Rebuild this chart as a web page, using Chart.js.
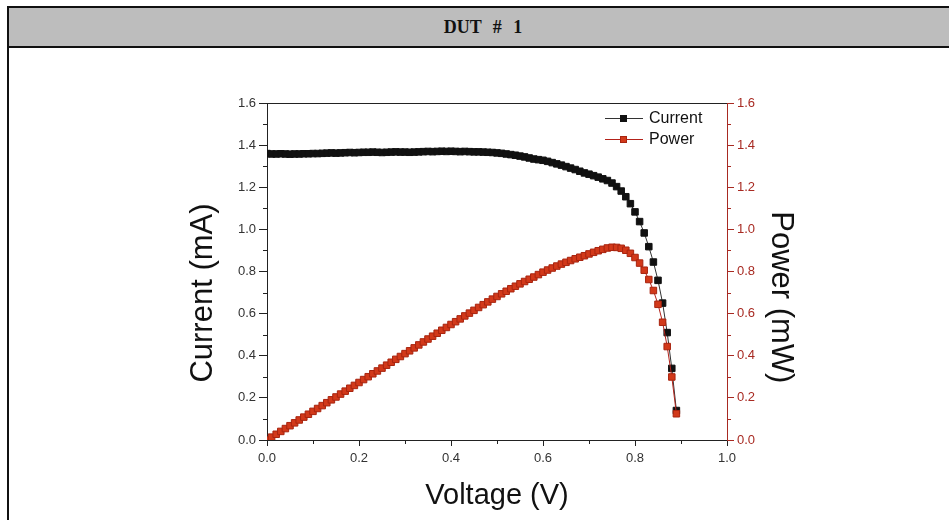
<!DOCTYPE html>
<html>
<head>
<meta charset="utf-8">
<title>DUT # 1</title>
<script src="https://cdn.jsdelivr.net/npm/chart.js@4.4.1/dist/chart.umd.min.js"></script>
<style>
  html, body { margin: 0; padding: 0; background: #fff; overflow: hidden; }
  #frame {
    position: absolute; left: 7px; top: 6px; width: 952px; height: 540px;
    border: 2px solid #111; box-sizing: border-box;
  }
  #header {
    height: 40px; background: #bdbdbd; border-bottom: 2px solid #111; box-sizing: border-box;
    text-align: center; font: bold 18px "Liberation Serif", serif; line-height: 38px;
    word-spacing: 7px; color: #111;
  }
  #wrap { position: absolute; left: 0; top: 0; width: 949px; height: 520px; }
</style>
</head>
<body>
<div id="frame"><div id="header">DUT # 1</div></div>
<div id="wrap"><canvas id="ivChart"></canvas></div>

<script>
// ------------------ Data ------------------
const voltage = [
  0.00, 0.01, 0.02, 0.03, 0.04, 0.05, 0.06, 0.07, 0.08, 0.09,
  0.10, 0.11, 0.12, 0.13, 0.14, 0.15, 0.16, 0.17, 0.18, 0.19,
  0.20, 0.21, 0.22, 0.23, 0.24, 0.25, 0.26, 0.27, 0.28, 0.29,
  0.30, 0.31, 0.32, 0.33, 0.34, 0.35, 0.36, 0.37, 0.38, 0.39,
  0.40, 0.41, 0.42, 0.43, 0.44, 0.45, 0.46, 0.47, 0.48, 0.49,
  0.50, 0.51, 0.52, 0.53, 0.54, 0.55, 0.56, 0.57, 0.58, 0.59,
  0.60, 0.61, 0.62, 0.63, 0.64, 0.65, 0.66, 0.67, 0.68, 0.69,
  0.70, 0.71, 0.72, 0.73, 0.74, 0.75, 0.76, 0.77, 0.78, 0.79,
  0.80, 0.81, 0.82, 0.83, 0.84, 0.85, 0.86, 0.87, 0.88, 0.89
];

const current = [
  1.360, 1.358, 1.358, 1.359, 1.358, 1.357, 1.358, 1.358, 1.359, 1.359,
  1.360, 1.360, 1.361, 1.362, 1.363, 1.362, 1.363, 1.364, 1.365, 1.364,
  1.365, 1.366, 1.366, 1.367, 1.366, 1.365, 1.366, 1.367, 1.368, 1.367,
  1.367, 1.366, 1.367, 1.368, 1.369, 1.370, 1.369, 1.370, 1.371, 1.370,
  1.371, 1.370, 1.369, 1.370, 1.369, 1.368, 1.368, 1.367, 1.366, 1.365,
  1.363, 1.361, 1.358, 1.355, 1.352, 1.348, 1.344, 1.339, 1.334, 1.331,
  1.328, 1.323, 1.317, 1.311, 1.305, 1.298, 1.291, 1.284, 1.276, 1.268,
  1.262, 1.255, 1.248, 1.240, 1.232, 1.220, 1.203, 1.182, 1.155, 1.122,
  1.083, 1.037, 0.983, 0.918, 0.845, 0.758, 0.650, 0.510, 0.340, 0.140
];

const power = [
  0.0000, 0.0136, 0.0272, 0.0408, 0.0543, 0.0679, 0.0815, 0.0951, 0.1087, 0.1223,
  0.1360, 0.1496, 0.1633, 0.1771, 0.1908, 0.2043, 0.2181, 0.2319, 0.2457, 0.2592,
  0.2730, 0.2869, 0.3005, 0.3144, 0.3278, 0.3413, 0.3552, 0.3691, 0.3830, 0.3964,
  0.4101, 0.4235, 0.4374, 0.4514, 0.4655, 0.4795, 0.4928, 0.5069, 0.5210, 0.5343,
  0.5484, 0.5617, 0.5750, 0.5891, 0.6024, 0.6156, 0.6293, 0.6425, 0.6557, 0.6689,
  0.6815, 0.6941, 0.7062, 0.7182, 0.7301, 0.7414, 0.7526, 0.7632, 0.7737, 0.7853,
  0.7968, 0.8070, 0.8165, 0.8259, 0.8352, 0.8437, 0.8521, 0.8603, 0.8677, 0.8749,
  0.8834, 0.8911, 0.8986, 0.9052, 0.9117, 0.9150, 0.9143, 0.9101, 0.9009, 0.8864,
  0.8664, 0.8400, 0.8061, 0.7619, 0.7098, 0.6443, 0.5590, 0.4437, 0.2992, 0.1246
];

const xLabels = [0.0, 0.2, 0.4, 0.6, 0.8, 1.0];
const yLabels = [0.0, 0.2, 0.4, 0.6, 0.8, 1.0, 1.2, 1.4, 1.6];

// ------------------ Helpers ------------------
const FAMILY = "'Liberation Sans', Arial, sans-serif";
const tickFont = { family: FAMILY, size: 13 };
const titleFont = { family: FAMILY, size: 31 };
const RED = "#a82a22";
const NB = "\u00a0";

const isMajor = (list, v) => list.some(t => Math.abs(t - v) < 1e-6);
const labelOnly = list => v => isMajor(list, v) ? Number(v).toFixed(1) : "";
// major ticks drawn by Chart.js, minor ones hidden there and drawn shorter below
const majorColor = (list, color) => c => (c.tick && isMajor(list, c.tick.value)) ? color : "rgba(0,0,0,0)";

const minorTicks = {
  id: "minorTicks",
  afterDraw(chart) {
    const { ctx, scales } = chart;
    const len = 4;
    ctx.save();
    ctx.lineWidth = 1;
    [["x", xLabels, "#222"], ["y", yLabels, "#222"], ["y1", yLabels, RED]].forEach(([id, list, color]) => {
      const s = scales[id];
      ctx.strokeStyle = color;
      s.ticks.forEach(t => {
        if (isMajor(list, t.value)) return;
        const p = Math.round(s.getPixelForValue(t.value)) + 0.5;
        ctx.beginPath();
        if (id === "x") { ctx.moveTo(p, s.top); ctx.lineTo(p, s.top + len); }
        else if (id === "y") { ctx.moveTo(s.right, p); ctx.lineTo(s.right - len, p); }
        else { ctx.moveTo(s.left, p); ctx.lineTo(s.left + len, p); }
        ctx.stroke();
      });
    });
    ctx.restore();
  }
};

// legend drawn inside the plot, Origin style: line - marker - line, then text
const innerLegend = {
  id: "innerLegend",
  afterDatasetsDraw(chart) {
    const { ctx, chartArea } = chart;
    const rows = [chart.data.datasets[1], chart.data.datasets[0]];
    ctx.save();
    rows.forEach((ds, i) => {
      const y = chartArea.top + 15 + i * 21;
      const x0 = chartArea.right - 122;
      ctx.strokeStyle = ds.borderColor;
      ctx.lineWidth = 1;
      ctx.beginPath();
      ctx.moveTo(x0, y + 0.5);
      ctx.lineTo(x0 + 38, y + 0.5);
      ctx.stroke();
      ctx.fillStyle = ds.pointBackgroundColor;
      ctx.strokeStyle = ds.pointBorderColor;
      ctx.fillRect(x0 + 15, y - 3, 7, 7);
      ctx.strokeRect(x0 + 15.5, y - 2.5, 6, 6);
      ctx.fillStyle = "#111";
      ctx.font = "16px " + FAMILY;
      ctx.textBaseline = "middle";
      ctx.fillText(ds.label, x0 + 44, y + 1);
    });
    ctx.restore();
  }
};

// ------------------ Chart ------------------
const ctx = document.getElementById("ivChart").getContext("2d");

new Chart(ctx, {
  type: "line",
  data: {
    datasets: [
      {
        label: "Power",
        data: voltage.map((v, i) => ({ x: v, y: power[i] })),
        yAxisID: "y1",
        order: 0,
        borderColor: "#b3221a",
        borderWidth: 1,
        pointStyle: "rect",
        pointRadius: 4.6,
        pointBackgroundColor: "#d2391a",
        pointBorderColor: "#a8240f",
        pointBorderWidth: 1
      },
      {
        label: "Current",
        data: voltage.map((v, i) => ({ x: v, y: current[i] })),
        yAxisID: "y",
        order: 1,
        borderColor: "#333",
        borderWidth: 1,
        pointStyle: "rect",
        pointRadius: 4.6,
        pointBackgroundColor: "#111",
        pointBorderColor: "#111",
        pointBorderWidth: 1
      }
    ]
  },
  options: {
    responsive: true,
    maintainAspectRatio: false,
    animation: false,
    devicePixelRatio: 1,
    layout: { padding: { left: 181, right: 146, top: 103, bottom: 3 } },
    plugins: { legend: { display: false }, tooltip: { enabled: false } },
    scales: {
      x: {
        type: "linear",
        position: "bottom",
        min: 0, max: 1,
        afterFit: s => { s.height = 77; },
        ticks: { stepSize: 0.1, autoSkip: false, maxRotation: 0, color: "#333", font: tickFont, padding: 5, callback: labelOnly(xLabels) },
        grid: { drawOnChartArea: false, tickLength: 6, tickColor: majorColor(xLabels, "#222") },
        border: { color: "#222", width: 1 },
        title: { display: true, text: "Voltage (V)", color: "#111", font: { family: FAMILY, size: 29 } }
      },
      xTop: {
        type: "linear",
        position: "top",
        min: 0, max: 1,
        afterFit: s => { s.height = 0; },
        ticks: { display: false },
        grid: { display: false },
        border: { color: "#222", width: 1 }
      },
      y: {
        type: "linear",
        position: "left",
        min: 0, max: 1.6,
        afterFit: s => { s.width = 86; },
        ticks: { stepSize: 0.1, autoSkip: false, color: "#333", font: tickFont, padding: 3, callback: labelOnly(yLabels) },
        grid: { drawOnChartArea: false, tickLength: 8, tickColor: majorColor(yLabels, "#222") },
        border: { color: "#222", width: 1 },
        title: { display: true, text: "Current (mA)" + NB.repeat(5), color: "#111", font: titleFont }
      },
      y1: {
        type: "linear",
        position: "right",
        min: 0, max: 1.6,
        afterFit: s => { s.width = 76; },
        ticks: { stepSize: 0.1, autoSkip: false, color: RED, font: tickFont, padding: 3, callback: labelOnly(yLabels) },
        grid: { drawOnChartArea: false, tickLength: 7, tickColor: majorColor(yLabels, RED) },
        border: { color: RED, width: 1 },
        title: { display: true, text: NB.repeat(6) + "Power (mW)", color: "#111", font: titleFont }
      }
    }
  },
  plugins: [minorTicks, innerLegend]
});
</script>
</body>
</html>
